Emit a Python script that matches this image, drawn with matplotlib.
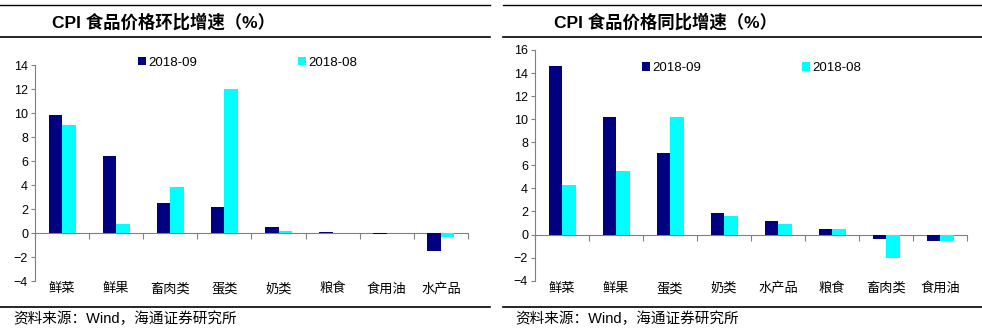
import matplotlib
matplotlib.use("Agg")
import matplotlib.pyplot as plt
from matplotlib.lines import Line2D

plt.rcParams['font.family'] = ['Liberation Sans', 'Noto Sans CJK SC', 'DejaVu Sans']

series_names = ["2018-09", "2018-08"]
colors = ["#000080", "#00FFFF"]

# 环比
mom_cats = ["鲜菜", "鲜果", "畜肉类", "蛋类", "奶类", "粮食", "食用油", "水产品"]
mom_sep = [9.8, 6.4, 2.5, 2.2, 0.5, 0.1, -0.1, -1.5]
mom_aug = [9.0, 0.75, 3.8, 12.0, 0.2, 0.0, 0.0, -0.3]

# 同比
yoy_cats = ["鲜菜", "鲜果", "蛋类", "奶类", "水产品", "粮食", "畜肉类", "食用油"]
yoy_sep = [14.6, 10.2, 7.1, 1.9, 1.2, 0.5, -0.4, -0.6]
yoy_aug = [4.3, 5.5, 10.2, 1.6, 0.9, 0.5, -2.0, -0.6]

fig = plt.figure(figsize=(9.82, 3.36), dpi=100)

W, H = 982, 336


def px_axes(x0, x1, ytop, ybot):
    return fig.add_axes([x0 / W, 1 - ybot / H, (x1 - x0) / W, (ybot - ytop) / H])


def draw(ax, cats, sep, aug, ylim, yticks, leg_y, leg_x):
    n = len(cats)
    x = list(range(n))
    w = 0.25
    ax.bar([i - w / 2 for i in x], sep, width=w, color=colors[0], label=series_names[0])
    ax.bar([i + w / 2 for i in x], aug, width=w, color=colors[1], label=series_names[1])
    ax.set_xlim(-0.5, n - 0.5)
    ax.set_ylim(*ylim)
    ax.set_yticks(yticks)
    ax.tick_params(axis='y', labelsize=9, length=3, color='#808080', pad=2)
    ax.set_xticks(x)
    ax.set_xticklabels(cats, fontsize=9.5, family=['Noto Sans CJK SC'])
    ax.tick_params(axis='x', length=0, pad=1)
    for s in ['top', 'right', 'bottom']:
        ax.spines[s].set_visible(False)
    ax.spines['left'].set_color('#808080')
    # zero line with category separators
    zero = (0 - ylim[0]) / (ylim[1] - ylim[0])
    sec = ax.secondary_xaxis(zero)
    sec.set_xticks([i - 0.5 for i in range(n + 1)])
    sec.set_xticklabels([])
    sec.tick_params(length=4, color='#808080', direction='out')
    sec.spines['bottom'].set_color('#808080')
    ax.legend(loc='center left', bbox_to_anchor=(leg_x / W, 1 - leg_y / H),
              bbox_transform=fig.transFigure, ncol=2, frameon=False,
              fontsize=9.5, handlelength=0.6, handleheight=0.6,
              handletextpad=0.2, columnspacing=7.6, borderaxespad=0, borderpad=0)


ax1 = px_axes(35, 468, 65, 281)
draw(ax1, mom_cats, mom_sep, mom_aug, (-4, 14), range(-4, 15, 2), 62.5, 138)

ax2 = px_axes(535, 967, 50, 280.7)
draw(ax2, yoy_cats, yoy_sep, yoy_aug, (-4, 16), range(-4, 17, 2), 68, 642)

# frame lines
for x0, x1 in [(0, 490), (503, 982)]:
    for y in [5, 37, 307]:
        fig.add_artist(Line2D([x0 / W, x1 / W], [1 - y / H, 1 - y / H],
                              color='black', lw=1.2 if y != 5 else 1.0))

fig.text(52 / W, 1 - 22 / H, "CPI 食品价格环比增速（%）", fontsize=12.5, fontweight='bold',
         va='center', ha='left')
fig.text(554 / W, 1 - 22 / H, "CPI 食品价格同比增速（%）", fontsize=12.5, fontweight='bold',
         va='center', ha='left')
fig.text(13 / W, 1 - 319 / H, "资料来源：Wind，海通证券研究所", fontsize=10.5,
         va='center', ha='left')
fig.text(515 / W, 1 - 319 / H, "资料来源：Wind，海通证券研究所", fontsize=10.5,
         va='center', ha='left')

fig.savefig("out.png", dpi=100)
